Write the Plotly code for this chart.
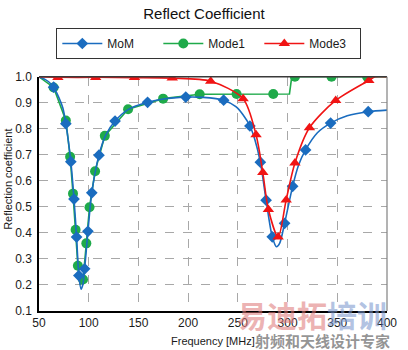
import plotly.graph_objects as go

# ---- MoM reference solution (smooth curve + marked samples) ----
mom_freq = [50, 56, 60, 64.7, 70, 74, 77, 82, 85.2, 87.8, 90.1, 92.3, 94, 95.9, 99.2,
            103.1, 110.3, 117, 126.5, 140, 159.2, 175, 197.6, 215, 235.7, 248, 255,
            262.1, 267, 272.6, 278.4, 284.6, 288.8, 292, 297, 305.1, 311, 318.1, 330,
            343.3, 360, 381.1, 400]
mom_val = [1.0, 0.99, 0.98, 0.96, 0.92, 0.88, 0.82, 0.674, 0.53, 0.384, 0.236, 0.184,
           0.2, 0.262, 0.406, 0.554, 0.699, 0.775, 0.83, 0.875, 0.902, 0.915, 0.922,
           0.921, 0.91, 0.885, 0.855, 0.811, 0.76, 0.672, 0.526, 0.385, 0.347, 0.36,
           0.437, 0.579, 0.66, 0.719, 0.785, 0.822, 0.85, 0.866, 0.872]
mom_mark_freq = [64.7, 77, 82, 85.2, 87.8, 90.1, 95.9, 99.2, 103.1, 110.3, 126.5, 159.2,
                 197.6, 235.7, 262.1, 272.6, 278.4, 284.6, 297, 305.1, 318.1, 343.3, 381.1]
mom_mark_val = [0.96, 0.82, 0.674, 0.53, 0.384, 0.236, 0.262, 0.406, 0.554, 0.699, 0.83,
                0.902, 0.922, 0.91, 0.811, 0.672, 0.526, 0.385, 0.437, 0.579, 0.719,
                0.822, 0.866]

# ---- Characteristic mode 1 ----
mode1_freq = [50, 64.7, 77, 81.3, 84.2, 86.8, 89.1, 91.5, 94.3, 97.6, 100.8, 106.4, 116.2,
              139.6, 174.8, 211.6, 248.7, 285.6, 301.9, 304.2, 307.4, 344.2, 380, 400]
mode1_val = [1.0, 0.959, 0.832, 0.693, 0.551, 0.412, 0.274, 0.2, 0.221, 0.36, 0.499, 0.637,
             0.773, 0.875, 0.916, 0.933, 0.934, 0.934, 0.934, 1.0, 1.0, 1.0, 1.0, 1.0]
mode1_mark_freq = [64.7, 77, 81.3, 84.2, 86.8, 89.1, 94.3, 97.6, 100.8, 106.4, 116.2, 139.6,
                   174.8, 211.6, 248.7, 285.6, 307.4, 344.2, 380]
mode1_mark_val = [0.959, 0.832, 0.693, 0.551, 0.412, 0.274, 0.221, 0.36, 0.499, 0.637, 0.773,
                  0.875, 0.916, 0.933, 0.934, 0.934, 1.0, 1.0, 1.0]

# ---- Characteristic mode 3 ----
mode3_freq = [50, 69, 107, 146, 184, 222.7, 255.3, 268.3, 275.1, 280.7, 290.5, 298.6,
              307.4, 322, 348.4, 381.7, 388, 400]
mode3_val = [1.0, 0.998, 0.998, 0.997, 0.995, 0.983, 0.916, 0.777, 0.632, 0.49, 0.384,
             0.527, 0.669, 0.804, 0.909, 0.986, 1.0, 1.0]
mode3_mark_freq = [69, 107, 146, 184, 222.7, 255.3, 268.3, 275.1, 280.7, 290.5, 298.6,
                   307.4, 322, 348.4, 381.7]
mode3_mark_val = [0.997, 0.997, 0.997, 0.995, 0.983, 0.916, 0.777, 0.632, 0.49, 0.384,
                  0.527, 0.669, 0.804, 0.909, 0.986]

x_ticks = [50, 100, 150, 200, 250, 300, 350, 400]
y_ticks = [0.1, 0.2, 0.3, 0.4, 0.5, 0.6, 0.7, 0.8, 0.9, 1.0]

BLUE = "#1a6cbf"
GREEN = "#1faa4a"
RED = "#f01414"
FONT = "Liberation Sans, Arial, sans-serif"

series = [
    ("MoM", BLUE, "diamond", 9, mom_freq, mom_val, mom_mark_freq, mom_mark_val),
    ("Mode1", GREEN, "circle", 10, mode1_freq, mode1_val, mode1_mark_freq, mode1_mark_val),
    ("Mode3", RED, "triangle-up", 10, mode3_freq, mode3_val, mode3_mark_freq, mode3_mark_val),
]

fig = go.Figure()

# legend entries (line + symbol), listed in legend order
for name, color, sym, size, *_ in series:
    fig.add_trace(go.Scatter(
        x=[None], y=[None], name=name, mode="lines+markers",
        line=dict(color=color, width=1.6),
        marker=dict(symbol=sym, size=size, color=color),
    ))

# drawing order: Mode1 underneath, then MoM, then Mode3 on top
shapes_for = {"MoM": "spline", "Mode1": "linear", "Mode3": "spline"}
for idx in (1, 0, 2):
    name, color, sym, size, fx, fy, mx, my = series[idx]
    fig.add_trace(go.Scatter(
        x=fx, y=fy, mode="lines", showlegend=False, hoverinfo="skip",
        line=dict(color=color, width=1.6, shape=shapes_for[name], smoothing=0.8),
    ))
    fig.add_trace(go.Scatter(
        x=mx, y=my, mode="markers", showlegend=False,
        marker=dict(symbol=sym, size=size, color=color),
    ))

axis_common = dict(
    showgrid=True, gridcolor="#a8a8a8", griddash="dash", gridwidth=1,
    zeroline=False, ticks="", showline=True, linecolor="#000000", linewidth=1.5,
    tickfont=dict(family=FONT, size=12, color="#1a1a1a"),
)

fig.update_xaxes(range=[50, 400], tickvals=x_ticks, ticktext=[str(v) for v in x_ticks],
                 **axis_common)
fig.update_yaxes(range=[0.1, 1.0], tickvals=y_ticks,
                 ticktext=[f"{v:.1f}" for v in y_ticks], ticklabelstandoff=3, **axis_common)

# frame: darker top edge, lighter right edge
fig.add_shape(type="line", xref="paper", yref="paper", x0=0, x1=1, y0=1, y1=1,
              line=dict(color="#3a3a3a", width=1.5))
fig.add_shape(type="line", xref="paper", yref="paper", x0=1, x1=1, y0=0, y1=1,
              line=dict(color="#808080", width=1.2))

fig.add_annotation(text="Reflection coefficient", xref="paper", yref="paper",
                   x=0, y=0.56, xshift=-31, xanchor="center", yanchor="middle",
                   textangle=-90, showarrow=False,
                   font=dict(family=FONT, size=11, color="#1a1a1a"))
fig.add_annotation(text="Frequency [MHz]", xref="paper", yref="paper",
                   x=0.5, y=0, yshift=-30, xshift=0, xanchor="center", yanchor="middle",
                   showarrow=False,
                   font=dict(family=FONT, size=11, color="#1a1a1a"))

# site watermark
fig.add_annotation(
    text='<span style="color:rgba(222,120,120,0.75)">易迪拓</span>'
         '<span style="color:rgba(120,150,205,0.75)">培训</span>',
    xref="paper", yref="paper", x=1, y=0, xanchor="right", yanchor="middle",
    xshift=2, yshift=-3, showarrow=False,
    font=dict(family="Noto Sans CJK SC", size=30, color="rgba(222,120,120,0.75)", weight="bold"))
fig.add_annotation(
    text="射频和天线设计专家", xref="paper", yref="paper", x=1, y=0,
    xanchor="right", yanchor="middle", xshift=5, yshift=-29, showarrow=False,
    font=dict(family="Noto Sans CJK SC", size=15, color="rgba(120,120,120,0.8)", weight="bold"))

fig.update_layout(
    width=408, height=350,
    margin=dict(l=39, r=11, t=68, b=39),
    paper_bgcolor="white", plot_bgcolor="white",
    title=dict(text="Reflect Coefficient", x=0.5, xanchor="center", y=0.975, yanchor="top",
               font=dict(family=FONT, size=15, color="#111111")),
    legend=dict(orientation="h", x=0.488, xanchor="center",
                yref="container", y=0.92, yanchor="top",
                bgcolor="white", bordercolor="#333333", borderwidth=1,
                font=dict(family=FONT, size=12, color="#1a1a1a"),
                entrywidth=46, entrywidthmode="pixels", itemwidth=40),
    showlegend=True,
)

fig.write_html("out.html")
